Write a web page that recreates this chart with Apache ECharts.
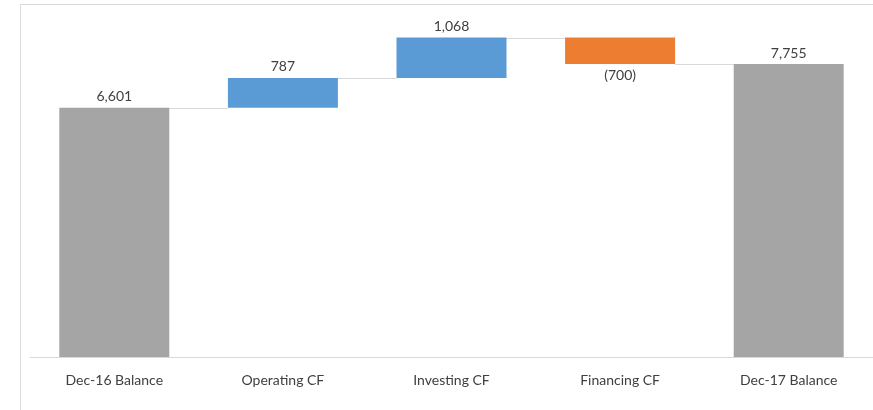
<!DOCTYPE html>
<html>
<head>
<meta charset="utf-8">
<script src="https://cdn.jsdelivr.net/npm/echarts@6/dist/echarts.min.js"></script>
<style>
  html, body { margin: 0; padding: 0; background: #fff; }
  #chart { width: 873px; height: 410px; }
</style>
</head>
<body>
<div id="chart"></div>
<script>
// categories and values
const categories = ['Dec-16 Balance', 'Operating CF', 'Investing CF', 'Financing CF', 'Dec-17 Balance'];
const openingBalance = 6601;
const closingBalance = 7755;
const flows = [787, 1068, -700]; // operating, investing, financing

// waterfall pieces
const base = [];
const totals = [];
const ups = [];
const downs = [];
const levels = []; // connector levels between neighbours

let running = openingBalance;
base.push(0); totals.push(openingBalance); ups.push('-'); downs.push('-');
levels.push(running);
flows.forEach(f => {
  if (f >= 0) {
    base.push(running); ups.push(f); downs.push('-');
    running += f;
  } else {
    running += f;
    base.push(running); ups.push('-'); downs.push(-f);
  }
  totals.push('-');
  levels.push(f >= 0 ? running : running - f);
});
base.push(0); totals.push(closingBalance); ups.push('-'); downs.push('-');
// connector levels: from each bar's end to the next bar's start
const connectors = [
  [0, openingBalance],
  [1, openingBalance + flows[0]],
  [2, openingBalance + flows[0] + flows[1]],
  [3, openingBalance + flows[0] + flows[1] + flows[2]]
];

const fmt = v => v.toLocaleString('en-US');
const font = 'Lato';
const textColor = '#404040';

const chart = echarts.init(document.getElementById('chart'));
chart.setOption({
  animation: false,
  graphic: [{
    type: 'rect',
    shape: { x: 20.5, y: 4.5, width: 870, height: 420 },
    style: { fill: 'none', stroke: '#d9d9d9', lineWidth: 1 },
    silent: true
  }],
  grid: { left: 30, right: 0, top: 17, bottom: 53 },
  xAxis: {
    type: 'category',
    data: categories,
    axisLine: { lineStyle: { color: '#d9d9d9', width: 1 } },
    axisTick: { show: false },
    axisLabel: { color: textColor, fontFamily: font, fontSize: 14, margin: 16 }
  },
  yAxis: {
    type: 'value',
    min: 0,
    max: 9000,
    show: false,
    splitLine: { show: false }
  },
  series: [
    {
      type: 'bar', stack: 'w', data: base, barWidth: 110,
      itemStyle: { color: 'transparent' }, silent: true
    },
    {
      type: 'bar', stack: 'w', data: totals,
      itemStyle: { color: '#a5a5a5' },
      label: { show: true, position: 'top', distance: 4, color: textColor, fontFamily: font, fontSize: 14,
        formatter: p => fmt(p.value) }
    },
    {
      type: 'bar', stack: 'w', data: ups,
      itemStyle: { color: '#5b9bd5' },
      label: { show: true, position: 'top', distance: 4, color: textColor, fontFamily: font, fontSize: 14,
        formatter: p => fmt(p.value) }
    },
    {
      type: 'bar', stack: 'w', data: downs,
      itemStyle: { color: '#ed7d31' },
      label: { show: true, position: 'bottom', distance: 4, color: textColor, fontFamily: font, fontSize: 14,
        formatter: p => '(' + fmt(p.value) + ')' }
    },
    {
      type: 'custom',
      data: connectors,
      silent: true,
      z: 1,
      renderItem: (params, api) => {
        const i = api.value(0);
        const y = api.coord([i, api.value(1)])[1];
        const x1 = api.coord([i, 0])[0] + 55;
        const x2 = api.coord([i + 1, 0])[0] - 55;
        return {
          type: 'line',
          shape: { x1: x1, y1: Math.round(y) + 0.5, x2: x2, y2: Math.round(y) + 0.5 },
          style: { stroke: '#d9d9d9', lineWidth: 1 }
        };
      }
    }
  ]
});
</script>
</body>
</html>
